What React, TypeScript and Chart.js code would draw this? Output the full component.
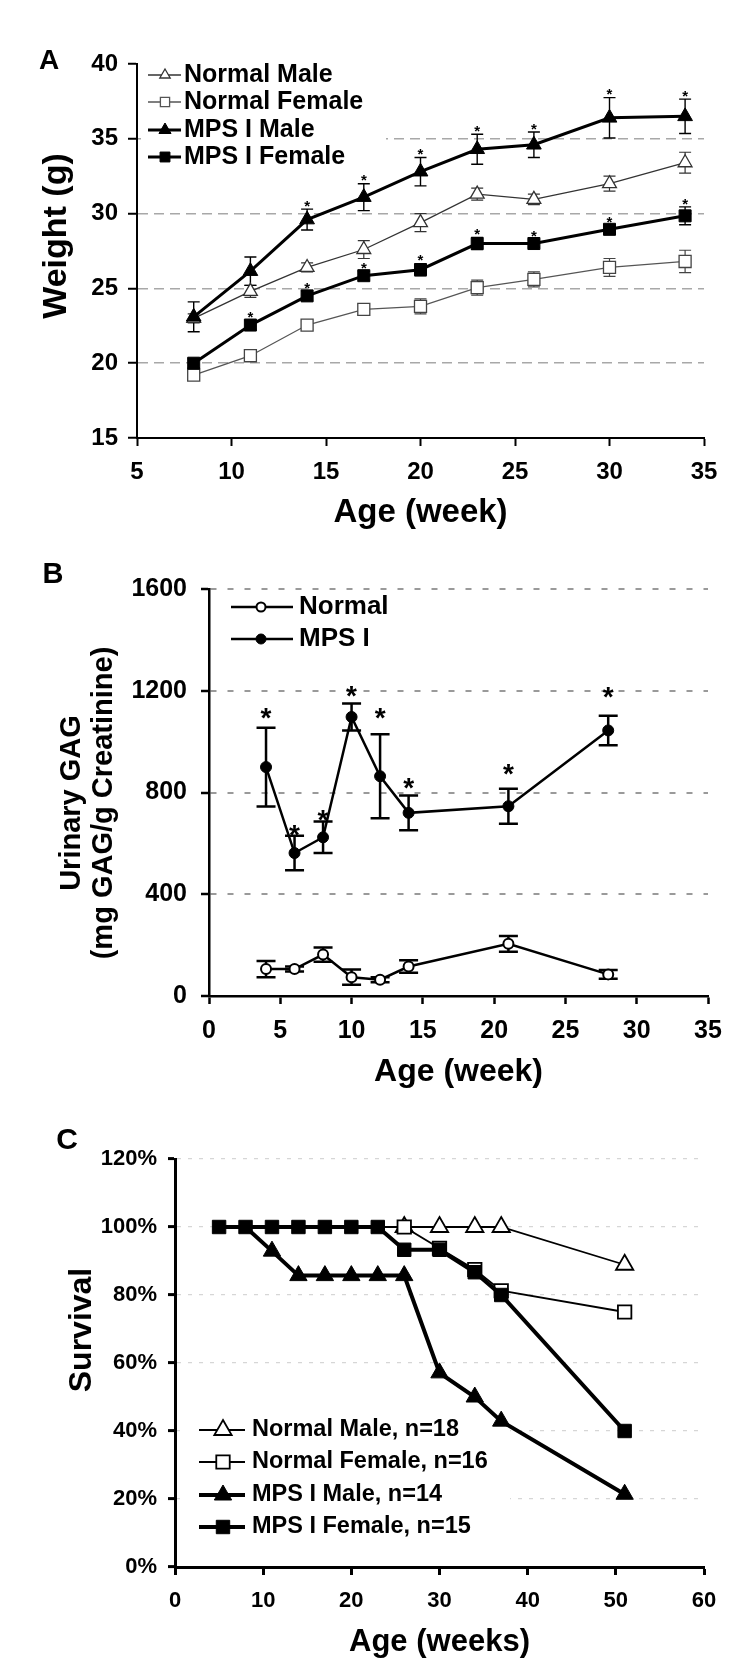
import React, { useEffect, useRef } from "react";
import { Chart, registerables } from "chart.js";

Chart.register(...registerables);

const FONT = "'Liberation Sans', Arial, Helvetica, sans-serif";

// ---------------- Panel A: body weight ----------------
const weeksA = [8, 11, 14, 17, 20, 23, 26, 30, 34];
const normalMaleWeight = [23.0, 24.8, 26.4, 27.6, 29.4, 31.3, 30.95, 32.0, 33.4];
const normalMaleWeightErr = [0.3, 0.4, 0.3, 0.6, 0.6, 0.4, 0.35, 0.5, 0.7];
const normalFemaleWeight = [19.2, 20.5, 22.55, 23.6, 23.8, 25.05, 25.6, 26.4, 26.8];
const normalFemaleWeightErr = [0.3, 0.3, 0.3, 0.35, 0.5, 0.5, 0.5, 0.6, 0.75];
const mpsMaleWeight = [23.1, 26.15, 29.6, 31.1, 32.8, 34.3, 34.6, 36.4, 36.5];
const mpsMaleWeightErr = [1.0, 0.95, 0.7, 0.9, 0.95, 1.0, 0.85, 1.35, 1.15];
const mpsFemaleWeight = [20.0, 22.55, 24.5, 25.85, 26.25, 28.0, 28.0, 28.95, 29.85];
const mpsFemaleWeightErr = [0.3, 0.3, 0.3, 0.3, 0.4, 0.4, 0.25, 0.3, 0.6];
const mpsMaleWeightSig = [false, false, true, true, true, true, true, true, true];
const mpsFemaleWeightSig = [false, true, true, true, true, true, true, true, true];
const xTicksA = [5, 10, 15, 20, 25, 30, 35];
const yTicksA = [15, 20, 25, 30, 35, 40];
const gridA = [20, 25, 30, 35];
const labelsA = ["Normal Male", "Normal Female", "MPS I Male", "MPS I Female"];

// ---------------- Panel B: urinary GAG ----------------
const weeksB = [4, 6, 8, 10, 12, 14, 21, 28];
const gagNormal = [106, 106, 163, 74, 64, 116, 205, 85];
const gagNormalErr = [32, 10, 28, 30, 10, 25, 31, 17];
const gagMps = [900, 562, 624, 1097, 864, 720, 746, 1044];
const gagMpsErr = [155, 68, 62, 53, 165, 68, 69, 58];
const gagMpsStarAt = [1120, 661, 722, 1206, 1120, 845, 901, 1204];
const xTicksB = [0, 5, 10, 15, 20, 25, 30, 35];
const yTicksB = [0, 400, 800, 1200, 1600];
const gridB = [400, 800, 1200, 1600];
const labelsB = ["Normal", "MPS I"];

// ---------------- Panel C: survival ----------------
const weeksC = [5, 8, 11, 14, 17, 20, 23, 26, 30, 34, 37, 51];
const survNormalMale = [100, 100, 100, 100, 100, 100, 100, 100, 100, 100, 100, 88.9];
const survNormalFemale = [100, 100, 100, 100, 100, 100, 100, 100, 93.75, 87.5, 81.25, 75];
const survMpsMale = [100, 100, 92.9, 85.7, 85.7, 85.7, 85.7, 85.7, 57.1, 50, 42.9, 21.4];
const survMpsFemale = [100, 100, 100, 100, 100, 100, 100, 93.3, 93.3, 86.7, 80, 40];
const xTicksC = [0, 10, 20, 30, 40, 50, 60];
const yTicksC = [0, 20, 40, 60, 80, 100, 120];
const gridC = [20, 40, 60, 80, 100, 120];
const labelsC = [
  "Normal Male, n=18",
  "Normal Female, n=16",
  "MPS I Male, n=14",
  "MPS I Female, n=15",
];

// ---------------- helpers ----------------
const pts = (xs: number[], ys: number[]) => xs.map((x, i) => ({ x, y: ys[i] }));

type Shape = "triangle" | "rect" | "circle";

function drawMarker(
  ctx: CanvasRenderingContext2D,
  shape: Shape,
  x: number,
  y: number,
  r: number,
  filled: boolean,
  bw: number,
  color: string
) {
  ctx.save();
  ctx.beginPath();
  if (shape === "circle") {
    ctx.arc(x, y, r, 0, Math.PI * 2);
  } else if (shape === "rect") {
    const s = Math.SQRT1_2 * r;
    ctx.rect(x - s, y - s, 2 * s, 2 * s);
  } else {
    let rad = 0;
    ctx.moveTo(x + Math.sin(rad) * r, y - Math.cos(rad) * r);
    rad += (2 * Math.PI) / 3;
    ctx.lineTo(x + Math.sin(rad) * r, y - Math.cos(rad) * r);
    rad += (2 * Math.PI) / 3;
    ctx.lineTo(x + Math.sin(rad) * r, y - Math.cos(rad) * r);
    ctx.closePath();
  }
  ctx.fillStyle = filled ? color : "#fff";
  ctx.fill();
  ctx.lineWidth = bw;
  ctx.strokeStyle = color;
  ctx.stroke();
  ctx.restore();
}

type LegendEntry = {
  label: string;
  shape: Shape;
  filled: boolean;
  radius: number;
  borderWidth: number;
  lineWidth: number;
  color: string;
};

type Decor = {
  letter: string;
  letterX: number;
  letterY: number;
  letterSize: number;
  yTitle: string[];
  yTitleX: number[];
  yTitleY: number;
  yTitleSize: number;
  legendBox: [number, number, number, number];
  legendRows: number[];
  legendLine: [number, number];
  legendMarkerX: number;
  legendTextX: number;
  legendSize: number;
  legendEntries: LegendEntry[];
  capHalf: number;
  starSize: number;
  starGap: number;
};

function decorPlugin(d: Decor) {
  return {
    id: "decor",
    beforeDatasetsDraw(chart: any) {
      const ctx: CanvasRenderingContext2D = chart.ctx;
      ctx.save();
      const [bx, by, bw, bh] = d.legendBox;
      ctx.fillStyle = "#fff";
      ctx.fillRect(bx, by, bw, bh);
      d.legendEntries.forEach((e, i) => {
        const y = d.legendRows[i];
        ctx.beginPath();
        ctx.moveTo(d.legendLine[0], y);
        ctx.lineTo(d.legendLine[1], y);
        ctx.lineWidth = e.lineWidth;
        ctx.strokeStyle = e.color;
        ctx.stroke();
        drawMarker(ctx, e.shape, d.legendMarkerX, y, e.radius, e.filled, e.borderWidth, e.color);
        ctx.fillStyle = "#000";
        ctx.font = `bold ${d.legendSize}px ${FONT}`;
        ctx.textAlign = "left";
        ctx.textBaseline = "middle";
        ctx.fillText(e.label, d.legendTextX, y);
      });
      const xs = chart.scales.x;
      const ys = chart.scales.y;
      chart.data.datasets.forEach((ds: any) => {
        if (!ds.errors) return;
        ctx.strokeStyle = ds.errColor || "#000";
        ctx.lineWidth = ds.errWidth || 1;
        ds.data.forEach((p: any, j: number) => {
          const e = ds.errors[j];
          const x = xs.getPixelForValue(p.x);
          const t = ys.getPixelForValue(p.y + e);
          const b = ys.getPixelForValue(p.y - e);
          ctx.beginPath();
          ctx.moveTo(x, t);
          ctx.lineTo(x, b);
          ctx.moveTo(x - d.capHalf, t);
          ctx.lineTo(x + d.capHalf, t);
          ctx.moveTo(x - d.capHalf, b);
          ctx.lineTo(x + d.capHalf, b);
          ctx.stroke();
        });
      });
      ctx.restore();
    },
    afterDatasetsDraw(chart: any) {
      const ctx: CanvasRenderingContext2D = chart.ctx;
      const xs = chart.scales.x;
      const ys = chart.scales.y;
      ctx.save();
      ctx.fillStyle = "#000";
      ctx.font = `bold ${d.starSize}px ${FONT}`;
      ctx.textAlign = "center";
      ctx.textBaseline = "alphabetic";
      chart.data.datasets.forEach((ds: any) => {
        ds.data.forEach((p: any, j: number) => {
          const x = xs.getPixelForValue(p.x);
          let cy: number | null = null;
          if (ds.starAt) cy = ys.getPixelForValue(ds.starAt[j]);
          else if (ds.sig && ds.sig[j]) cy = ys.getPixelForValue(p.y + ds.errors[j]) - d.starGap;
          if (cy !== null) ctx.fillText("*", x, cy + 0.58 * d.starSize);
        });
      });
      ctx.restore();
    },
    afterDraw(chart: any) {
      const ctx: CanvasRenderingContext2D = chart.ctx;
      ctx.save();
      ctx.fillStyle = "#000";
      ctx.textAlign = "center";
      ctx.textBaseline = "middle";
      ctx.font = `bold ${d.letterSize}px ${FONT}`;
      ctx.fillText(d.letter, d.letterX, d.letterY);
      ctx.font = `bold ${d.yTitleSize}px ${FONT}`;
      d.yTitle.forEach((t, i) => {
        ctx.save();
        ctx.translate(d.yTitleX[i], d.yTitleY);
        ctx.rotate(-Math.PI / 2);
        ctx.fillText(t, 0, 0);
        ctx.restore();
      });
      ctx.restore();
    },
  };
}

function axisY(o: {
  ticks: number[];
  grid: number[];
  width: number;
  fontSize: number;
  pad: number;
  tickLen: number;
  lw: number;
  gridColor: string;
  gridWidth: number;
  dash: number[];
  fmt?: (v: number) => string;
}) {
  return {
    type: "linear",
    position: "left",
    min: o.ticks[0],
    max: o.ticks[o.ticks.length - 1],
    afterBuildTicks: (s: any) => {
      s.ticks = o.ticks.map((v) => ({ value: v }));
    },
    afterFit: (s: any) => {
      s.width = o.width;
    },
    grid: {
      display: true,
      drawOnChartArea: true,
      drawTicks: true,
      color: (c: any) =>
        c.tick && o.grid.includes(c.tick.value) ? o.gridColor : "rgba(0,0,0,0)",
      lineWidth: o.gridWidth,
      tickLength: o.tickLen,
      tickColor: "#000",
      tickWidth: o.lw,
    },
    border: { display: true, color: "#000", width: o.lw, dash: o.dash },
    ticks: {
      color: "#000",
      padding: o.pad,
      autoSkip: false,
      font: { family: FONT, size: o.fontSize, weight: "bold" },
      callback: (v: any) => (o.fmt ? o.fmt(Number(v)) : String(v)),
    },
  };
}

function axisX(o: {
  ticks: number[];
  height: number;
  fontSize: number;
  pad: number;
  tickLen: number;
  lw: number;
  title: string;
  titleSize: number;
  titlePad: number;
}) {
  return {
    type: "linear",
    position: "bottom",
    min: o.ticks[0],
    max: o.ticks[o.ticks.length - 1],
    afterBuildTicks: (s: any) => {
      s.ticks = o.ticks.map((v) => ({ value: v }));
    },
    afterFit: (s: any) => {
      s.height = o.height;
    },
    grid: {
      display: true,
      drawOnChartArea: false,
      drawTicks: true,
      tickLength: o.tickLen,
      tickColor: "#000",
      tickWidth: o.lw,
      color: "#000",
    },
    border: { display: true, color: "#000", width: o.lw },
    ticks: {
      color: "#000",
      padding: o.pad,
      maxRotation: 0,
      autoSkip: false,
      font: { family: FONT, size: o.fontSize, weight: "bold" },
    },
    title: {
      display: true,
      text: o.title,
      color: "#000",
      font: { family: FONT, size: o.titleSize, weight: "bold", lineHeight: 1 },
      padding: { top: 0, bottom: o.titlePad },
    },
  };
}

const baseOptions = (padding: any, scales: any) => ({
  responsive: false,
  animation: false,
  devicePixelRatio: 1,
  layout: { padding },
  plugins: { legend: { display: false }, tooltip: { enabled: false }, title: { display: false } },
  elements: { line: { tension: 0, fill: false } },
  scales,
});

// ---------------- chart builders ----------------
function buildA() {
  const datasets = [
    {
      label: labelsA[0],
      data: pts(weeksA, normalMaleWeight),
      errors: normalMaleWeightErr,
      errColor: "#333",
      errWidth: 1.2,
      borderColor: "#333",
      borderWidth: 1.3,
      pointStyle: "triangle",
      pointRadius: 8,
      pointBackgroundColor: "#fff",
      pointBorderColor: "#333",
      pointBorderWidth: 1.3,
      order: 3,
    },
    {
      label: labelsA[1],
      data: pts(weeksA, normalFemaleWeight),
      errors: normalFemaleWeightErr,
      errColor: "#444",
      errWidth: 1.2,
      borderColor: "#555",
      borderWidth: 1.3,
      pointStyle: "rect",
      pointRadius: 8.5,
      pointBackgroundColor: "#fff",
      pointBorderColor: "#444",
      pointBorderWidth: 1.3,
      order: 2,
    },
    {
      label: labelsA[2],
      data: pts(weeksA, mpsMaleWeight),
      errors: mpsMaleWeightErr,
      sig: mpsMaleWeightSig,
      errColor: "#000",
      errWidth: 1.4,
      borderColor: "#000",
      borderWidth: 3,
      pointStyle: "triangle",
      pointRadius: 8.5,
      pointBackgroundColor: "#000",
      pointBorderColor: "#000",
      pointBorderWidth: 1,
      order: 1,
    },
    {
      label: labelsA[3],
      data: pts(weeksA, mpsFemaleWeight),
      errors: mpsFemaleWeightErr,
      sig: mpsFemaleWeightSig,
      errColor: "#000",
      errWidth: 1.4,
      borderColor: "#000",
      borderWidth: 3,
      pointStyle: "rect",
      pointRadius: 8.5,
      pointBackgroundColor: "#000",
      pointBorderColor: "#000",
      pointBorderWidth: 1,
      order: 0,
    },
  ];
  const decor: Decor = {
    letter: "A",
    letterX: 49,
    letterY: 61,
    letterSize: 28,
    yTitle: ["Weight (g)"],
    yTitleX: [57],
    yTitleY: 236,
    yTitleSize: 34,
    legendBox: [141, 58, 245, 118],
    legendRows: [75, 102, 130, 157],
    legendLine: [148, 181],
    legendMarkerX: 165,
    legendTextX: 184,
    legendSize: 25,
    legendEntries: [
      { label: labelsA[0], shape: "triangle", filled: false, radius: 6, borderWidth: 1.3, lineWidth: 1.3, color: "#333" },
      { label: labelsA[1], shape: "rect", filled: false, radius: 6.5, borderWidth: 1.3, lineWidth: 1.3, color: "#555" },
      { label: labelsA[2], shape: "triangle", filled: true, radius: 7, borderWidth: 1, lineWidth: 3, color: "#000" },
      { label: labelsA[3], shape: "rect", filled: true, radius: 7, borderWidth: 1, lineWidth: 3, color: "#000" },
    ],
    capHalf: 6,
    starSize: 15,
    starGap: 7,
  };
  return {
    type: "line",
    data: { datasets },
    options: baseOptions(
      { left: 0, right: 46, top: 64, bottom: 0 },
      {
        x: axisX({ ticks: xTicksA, height: 102, fontSize: 24, pad: 12, tickLen: 8, lw: 2, title: "Age (week)", titleSize: 33, titlePad: 11 }),
        y: axisY({ ticks: yTicksA, grid: gridA, width: 137, fontSize: 24, pad: 10, tickLen: 9, lw: 2, gridColor: "#a8a8a8", gridWidth: 1.5, dash: [10, 6] }),
      }
    ),
    plugins: [decorPlugin(decor)],
  };
}

function buildB() {
  const datasets = [
    {
      label: labelsB[0],
      data: pts(weeksB, gagNormal),
      errors: gagNormalErr,
      errColor: "#000",
      errWidth: 2.5,
      borderColor: "#000",
      borderWidth: 2.5,
      pointStyle: "circle",
      pointRadius: 5,
      pointBackgroundColor: "#fff",
      pointBorderColor: "#000",
      pointBorderWidth: 2,
      order: 1,
    },
    {
      label: labelsB[1],
      data: pts(weeksB, gagMps),
      errors: gagMpsErr,
      starAt: gagMpsStarAt,
      errColor: "#000",
      errWidth: 2.5,
      borderColor: "#000",
      borderWidth: 2.5,
      pointStyle: "circle",
      pointRadius: 5.5,
      pointBackgroundColor: "#000",
      pointBorderColor: "#000",
      pointBorderWidth: 1,
      order: 0,
    },
  ];
  const decor: Decor = {
    letter: "B",
    letterX: 53,
    letterY: 35,
    letterSize: 29,
    yTitle: ["Urinary GAG", "(mg GAG/g Creatinine)"],
    yTitleX: [72, 104],
    yTitleY: 263,
    yTitleSize: 29,
    legendBox: [212, 53, 180, 64],
    legendRows: [67, 99],
    legendLine: [231, 293],
    legendMarkerX: 261,
    legendTextX: 299,
    legendSize: 26,
    legendEntries: [
      { label: labelsB[0], shape: "circle", filled: false, radius: 4.5, borderWidth: 2, lineWidth: 2.5, color: "#000" },
      { label: labelsB[1], shape: "circle", filled: true, radius: 5, borderWidth: 1, lineWidth: 2.5, color: "#000" },
    ],
    capHalf: 9.5,
    starSize: 28,
    starGap: 15,
  };
  return {
    type: "line",
    data: { datasets },
    options: baseOptions(
      { left: 0, right: 42, top: 49, bottom: 0 },
      {
        x: axisX({ ticks: xTicksB, height: 94, fontSize: 25, pad: 12, tickLen: 8, lw: 2.5, title: "Age (week)", titleSize: 32, titlePad: 2 }),
        y: axisY({ ticks: yTicksB, grid: gridB, width: 209, fontSize: 25, pad: 14, tickLen: 8, lw: 2.5, gridColor: "#9a9a9a", gridWidth: 2, dash: [6, 11] }),
      }
    ),
    plugins: [decorPlugin(decor)],
  };
}

function buildC() {
  const datasets = [
    {
      label: labelsC[0],
      data: pts(weeksC, survNormalMale),
      borderColor: "#000",
      borderWidth: 1.8,
      pointStyle: "triangle",
      pointRadius: (c: any) => (weeksC[c.dataIndex] >= 26 ? 10 : 0),
      pointBackgroundColor: "#fff",
      pointBorderColor: "#000",
      pointBorderWidth: 1.8,
      order: 3,
    },
    {
      label: labelsC[1],
      data: pts(weeksC, survNormalFemale),
      borderColor: "#000",
      borderWidth: 1.8,
      pointStyle: "rect",
      pointRadius: (c: any) => (weeksC[c.dataIndex] >= 26 ? 9.5 : 0),
      pointBackgroundColor: "#fff",
      pointBorderColor: "#000",
      pointBorderWidth: 1.8,
      order: 2,
    },
    {
      label: labelsC[2],
      data: pts(weeksC, survMpsMale),
      borderColor: "#000",
      borderWidth: 4,
      pointStyle: "triangle",
      pointRadius: (c: any) => (survMpsMale[c.dataIndex] >= 100 ? 0 : 10),
      pointBackgroundColor: "#000",
      pointBorderColor: "#000",
      pointBorderWidth: 1,
      order: 1,
    },
    {
      label: labelsC[3],
      data: pts(weeksC, survMpsFemale),
      borderColor: "#000",
      borderWidth: 4,
      pointStyle: "rect",
      pointRadius: 9.5,
      pointBackgroundColor: "#000",
      pointBorderColor: "#000",
      pointBorderWidth: 1,
      order: 0,
    },
  ];
  const decor: Decor = {
    letter: "C",
    letterX: 67,
    letterY: 51,
    letterSize: 30,
    yTitle: ["Survival"],
    yTitleX: [82],
    yTitleY: 240,
    yTitleSize: 32,
    legendBox: [180, 322, 330, 133],
    legendRows: [340, 372, 405, 437],
    legendLine: [199, 245],
    legendMarkerX: 223,
    legendTextX: 252,
    legendSize: 23.5,
    legendEntries: [
      { label: labelsC[0], shape: "triangle", filled: false, radius: 10, borderWidth: 1.8, lineWidth: 1.8, color: "#000" },
      { label: labelsC[1], shape: "rect", filled: false, radius: 9.5, borderWidth: 1.8, lineWidth: 1.8, color: "#000" },
      { label: labelsC[2], shape: "triangle", filled: true, radius: 10, borderWidth: 1, lineWidth: 4, color: "#000" },
      { label: labelsC[3], shape: "rect", filled: true, radius: 9.5, borderWidth: 1, lineWidth: 4, color: "#000" },
    ],
    capHalf: 0,
    starSize: 20,
    starGap: 0,
  };
  return {
    type: "line",
    data: { datasets },
    options: baseOptions(
      { left: 0, right: 46, top: 69, bottom: 0 },
      {
        x: axisX({ ticks: xTicksC, height: 106, fontSize: 22, pad: 13, tickLen: 8, lw: 3, title: "Age (weeks)", titleSize: 31, titlePad: 15 }),
        y: axisY({ ticks: yTicksC, grid: gridC, width: 175, fontSize: 22, pad: 11, tickLen: 7, lw: 3, gridColor: "#d6d6d6", gridWidth: 1.2, dash: [4, 7], fmt: (v) => `${v}%` }),
      }
    ),
    plugins: [decorPlugin(decor)],
  };
}

function ChartCanvas({ top, height, build }: { top: number; height: number; build: () => any }) {
  const ref = useRef<HTMLCanvasElement>(null);
  useEffect(() => {
    if (!ref.current) return;
    const chart = new Chart(ref.current, build());
    return () => chart.destroy();
  }, []);
  return (
    <canvas
      ref={ref}
      width={750}
      height={height}
      style={{ position: "absolute", left: 0, top, width: 750, height, display: "block" }}
    />
  );
}

export default function App() {
  return (
    <div style={{ position: "absolute", left: 0, top: 0, width: 750, height: 1673, background: "#fff" }}>
      <ChartCanvas top={0} height={540} build={buildA} />
      <ChartCanvas top={540} height={550} build={buildB} />
      <ChartCanvas top={1090} height={583} build={buildC} />
    </div>
  );
}
